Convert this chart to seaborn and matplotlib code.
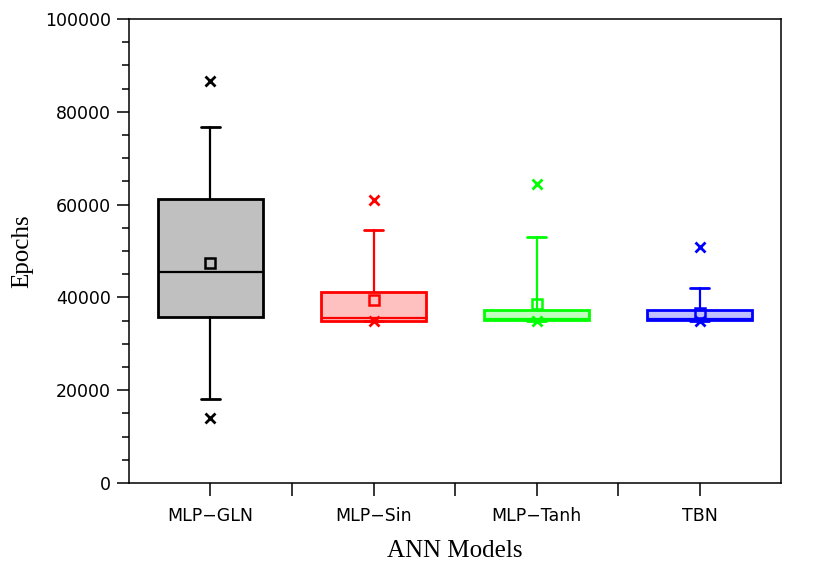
import matplotlib
matplotlib.use("Agg")
import matplotlib.pyplot as plt
from matplotlib.ticker import MultipleLocator, FixedLocator
import seaborn as sns
import pandas as pd

# box statistics
models = ["MLP\u2212GLN", "MLP\u2212Sin", "MLP\u2212Tanh", "TBN"]
whisker_low = [18100, 35000, 35000, 35000]
q1 = [35700, 35000, 35100, 35200]
median = [45500, 35500, 35300, 35400]
q3 = [61300, 41200, 37300, 37300]
whisker_high = [76800, 54500, 53100, 42100]
mean = [47400, 39400, 38600, 36600]
minimum = [14000, 34900, 35000, 35000]
maximum = [86600, 60900, 64500, 50900]

edge_colors = ["#000000", "#ff0000", "#00ff00", "#0000ff"]
fill_colors = ["#c0c0c0", "#ffc0c0", "#c0ffc0", "#c0c0ff"]

sns.set_theme(style="ticks")
plt.rcParams["font.family"] = ["DejaVu Sans"]
plt.rcParams["text.color"] = "black"
plt.rcParams["axes.labelcolor"] = "black"

fig = plt.figure(figsize=(8.3, 5.79), dpi=100)
ax = fig.add_axes([0.1554, 0.1658, 0.7856, 0.8014])

stats = []
for i, m in enumerate(models):
    stats.append({"label": m, "whislo": whisker_low[i], "q1": q1[i], "med": median[i],
                  "q3": q3[i], "whishi": whisker_high[i], "mean": mean[i], "fliers": []})

bp = ax.bxp(stats, positions=range(len(models)), widths=0.645, patch_artist=True,
            showfliers=False, showmeans=False, capwidths=0.12)
for i in range(len(models)):
    bp["boxes"][i].set(facecolor=fill_colors[i], edgecolor=edge_colors[i], linewidth=2.0)
    bp["medians"][i].set(color=edge_colors[i], linewidth=1.6)
    for w in bp["whiskers"][2 * i:2 * i + 2]:
        w.set(color=edge_colors[i], linewidth=1.6)
    for c in bp["caps"][2 * i:2 * i + 2]:
        c.set(color=edge_colors[i], linewidth=2.0)

pal = dict(zip(models, edge_colors))
df_mean = pd.DataFrame({"Model": models, "Epochs": mean})
df_min = pd.DataFrame({"Model": models, "Epochs": minimum})
df_max = pd.DataFrame({"Model": models, "Epochs": maximum})

sns.pointplot(data=df_mean, x="Model", y="Epochs", hue="Model", palette=pal, order=models,
              hue_order=models, markers="s", linestyles="none", errorbar=None,
              markerfacecolor="none", markersize=6.5, markeredgewidth=1.8,
              legend=False, ax=ax, zorder=5)
for d in (df_min, df_max):
    sns.pointplot(data=d, x="Model", y="Epochs", hue="Model", palette=pal, order=models,
                  hue_order=models, markers="x", linestyles="none", errorbar=None,
                  markersize=7, markeredgewidth=2.0, legend=False, ax=ax, zorder=5)

ax.set_xlim(-0.5, 3.5)
ax.set_ylim(0, 100000)
ax.xaxis.set_major_locator(FixedLocator(range(len(models))))
ax.set_xticklabels(models)
ax.xaxis.set_minor_locator(FixedLocator([0.5, 1.5, 2.5]))
ax.yaxis.set_major_locator(MultipleLocator(20000))
ax.yaxis.set_minor_locator(MultipleLocator(5000))
ax.tick_params(axis="both", which="major", direction="out", length=9, width=1.1,
               labelsize=12.5, color="black", labelcolor="black")
ax.tick_params(axis="x", which="major", pad=8.5)
ax.tick_params(axis="y", which="major", pad=4)
ax.tick_params(axis="x", which="minor", direction="out", length=9, width=1.1, color="black")
ax.tick_params(axis="y", which="minor", direction="out", length=5, width=1.1, color="black")
for s in ax.spines.values():
    s.set_visible(True)
    s.set_linewidth(1.1)
    s.set_color("black")

ax.set_xlabel("ANN Models", family="Liberation Serif", fontsize=18, color="black")
ax.set_ylabel("Epochs", family="Liberation Serif", fontsize=18, color="black")
ax.xaxis.set_label_coords(0.5, -0.122)
ax.yaxis.set_label_coords(-0.147, 0.5)

fig.savefig("out.png", dpi=100)
